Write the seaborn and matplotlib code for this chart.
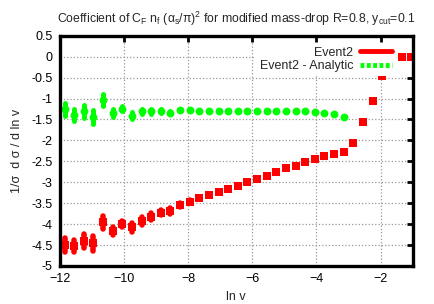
import numpy as np
import matplotlib
matplotlib.use("Agg")
import matplotlib.pyplot as plt
import seaborn as sns
from matplotlib.lines import Line2D

# bin centres in ln v
lnv = [-11.85, -11.55, -11.25, -10.95, -10.65, -10.35, -10.05, -9.75, -9.45, -9.15,
       -8.85, -8.55, -8.25, -7.95, -7.65, -7.35, -7.05, -6.75, -6.45, -6.15,
       -5.85, -5.55, -5.25, -4.95, -4.65, -4.35, -4.05, -3.75, -3.45, -3.15,
       -2.85, -2.55, -2.25, -1.95, -1.65, -1.35, -1.05]

# Event2
event2 = [-4.50, -4.52, -4.40, -4.46, -3.96, -4.16, -4.00, -4.08, -3.92, -3.82,
          -3.73, -3.69, -3.54, -3.46, -3.38, -3.31, -3.24, -3.17, -3.08, -3.00,
          -2.92, -2.84, -2.75, -2.67, -2.60, -2.52, -2.44, -2.37, -2.32, -2.28,
          -2.07, -1.55, -1.06, -0.46, 0.02, 0.00, 0.00]
event2_err = [0.16, 0.15, 0.17, 0.18, 0.15, 0.10, 0.08, 0.10, 0.09, 0.08,
              0.06, 0.07, 0.04, 0.03, 0.03, 0.02, 0.02, 0.02, 0.02, 0.01,
              0.01, 0.01, 0.01, 0.01, 0.01, 0.01, 0.01, 0.01, 0.01, 0.01,
              0.01, 0.01, 0.01, 0.01, 0.01, 0.01, 0.01]

# Event2 - Analytic (first 30 bins)
diff = [-1.26, -1.39, -1.31, -1.45, -1.03, -1.34, -1.24, -1.41, -1.31, -1.31,
        -1.30, -1.34, -1.28, -1.28, -1.29, -1.30, -1.30, -1.30, -1.31, -1.30,
        -1.30, -1.30, -1.30, -1.30, -1.31, -1.31, -1.32, -1.35, -1.37, -1.43]
diff_err = [0.16, 0.15, 0.16, 0.17, 0.14, 0.09, 0.07, 0.08, 0.06, 0.05,
            0.04, 0.04, 0.03, 0.02, 0.02, 0.02, 0.02, 0.02, 0.02, 0.02,
            0.02, 0.02, 0.02, 0.02, 0.02, 0.02, 0.02, 0.02, 0.02, 0.02]

red = "#ff0000"
green = "#00ff00"

sns.set_style("white")
plt.rcParams["font.family"] = ["Liberation Sans", "DejaVu Sans"]
plt.rcParams["mathtext.fontset"] = "custom"
plt.rcParams["mathtext.rm"] = "Liberation Sans"
plt.rcParams["mathtext.it"] = "Liberation Sans"
plt.rcParams["mathtext.default"] = "regular"

fig = plt.figure(figsize=(4.34, 3.04), dpi=100)
ax = fig.add_axes([0.1376, 0.125, 0.8134, 0.7576])

x_diff = lnv[:len(diff)]

eb1 = ax.errorbar(lnv, event2, yerr=event2_err, fmt="none", ecolor=red, elinewidth=4.0, capsize=0, zorder=3)
eb2 = ax.errorbar(x_diff, diff, yerr=diff_err, fmt="none", ecolor=green, elinewidth=3.6, capsize=0, zorder=3)
for eb in (eb1, eb2):
    for lc in eb[2]:
        lc.set_capstyle("round")
sns.scatterplot(x=lnv, y=event2, ax=ax, color=red, marker="s", s=26, linewidth=0, zorder=4)
sns.scatterplot(x=x_diff, y=diff, ax=ax, color=green, marker="o", s=32, linewidth=0, zorder=4)

ax.set_xlim(-12, -1)
ax.set_ylim(-5, 0.5)
ax.set_xticks([-12, -10, -8, -6, -4, -2])
ax.set_yticks([0.5, 0, -0.5, -1, -1.5, -2, -2.5, -3, -3.5, -4, -4.5, -5])
ax.set_yticklabels(["0.5", "0", "-0.5", "-1", "-1.5", "-2", "-2.5", "-3", "-3.5", "-4", "-4.5", "-5"])
ax.grid(True, color="#999999", linestyle=":", linewidth=0.9)
ax.set_axisbelow(True)
for s in ax.spines.values():
    s.set_linewidth(2.4)
    s.set_color("black")
    s.set_zorder(6)
ax.tick_params(direction="in", length=4, width=2, top=True, right=True,
               labelsize=9, colors="black", pad=5)

ax.set_xlabel("ln v", fontsize=9, labelpad=4)
ax.set_ylabel("1/\u03c3  d \u03c3 / d ln v", fontsize=9, labelpad=6)
ax.set_title(r"Coefficient of C$_{F}$ n$_{f}$ ($\alpha_{s}$/$\pi$)$^{2}$ for modified mass-drop R=0.8, y$_{cut}$=0.1",
             fontsize=8.8, pad=9)

handles = [
    Line2D([], [], color=red, lw=3.5, solid_capstyle="round"),
    Line2D([], [], color=green, lw=3.5, ls=(0, (0.8, 0.5)), dash_capstyle="butt"),
]
leg = ax.legend(handles, ["Event2", "Event2 - Analytic"], loc="upper right",
                bbox_to_anchor=(0.97, 0.995), markerfirst=False, frameon=True,
                fontsize=9, handlelength=2.6, handletextpad=0.5, labelspacing=0.1,
                borderpad=0.3, fancybox=False)
leg.get_frame().set_facecolor("white")
leg.get_frame().set_edgecolor("none")
leg.get_frame().set_alpha(1.0)
leg.set_zorder(5)

fig.savefig("out.png", dpi=100)
